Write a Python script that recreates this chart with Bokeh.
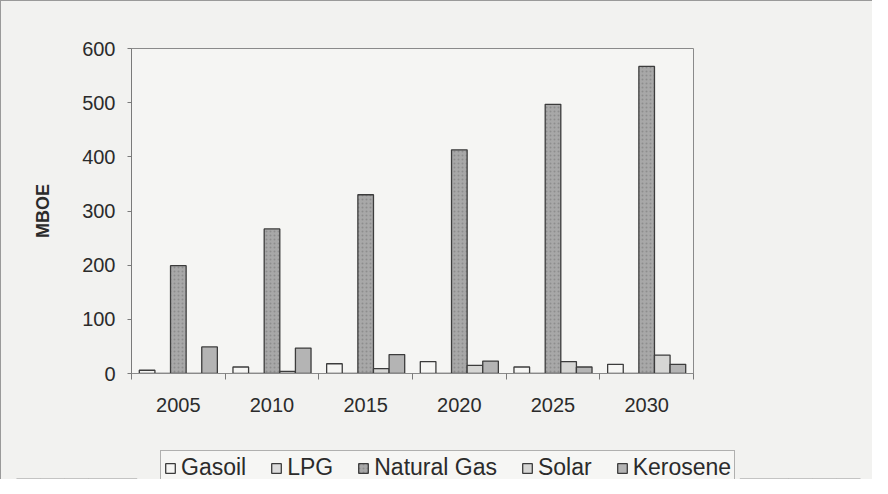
import numpy as np
from bokeh.plotting import figure
from bokeh.layouts import column
from bokeh.models import Range1d, FixedTicker, Legend, LegendItem, ColumnDataSource
from bokeh.embed import file_html
from bokeh.resources import INLINE

years = ["2005", "2010", "2015", "2020", "2025", "2030"]
series = ["Gasoil", "LPG", "Natural Gas", "Solar", "Kerosene"]
gasoil = [6, 12, 18, 22, 12, 17]
lpg = [0, 0, 0, 0, 0, 0]
natural_gas = [199, 267, 330, 413, 497, 567]
solar = [0, 4, 9, 15, 22, 34]
kerosene = [49, 47, 35, 23, 12, 17]
y_ticks = [0, 100, 200, 300, 400, 500, 600]

values = [gasoil, lpg, natural_gas, solar, kerosene]
fills = ["#f6f6f4", "#dcdcdc", "#a8a8a8", "#d6d6d4", "#b4b4b4"]
hatches = [None, None, "dot", None, None]

FONT = "Liberation Sans"
TXT = "#2b2b2b"
BG = "#f2f2f0"

p = figure(width=868, height=435, output_backend="svg", toolbar_location=None,
           x_range=Range1d(0, len(years)), y_range=Range1d(0, 600),
           min_border_left=127, min_border_right=179, min_border_top=39,
           min_border_bottom=71)
p.frame_align = False
p.background_fill_color = "#f5f5f3"
p.border_fill_color = BG
p.outline_line_color = "#8a8a8a"
p.outline_line_width = 1
p.grid.visible = False

centers = np.arange(len(years)) + 0.5
bw = 1.0 / 6.0


def style(i):
    kw = dict(fill_color=fills[i], line_color="#3c3c3c", line_width=1.3)
    if hatches[i]:
        kw.update(hatch_pattern=hatches[i], hatch_color="#7c7c7c", hatch_scale=4,
                  hatch_alpha=0.6)
    return kw


sources = []
for i, vals in enumerate(values):
    src = ColumnDataSource(dict(x=centers + (i - 2) * bw, top=vals))
    sources.append(src)
    p.vbar(x="x", top="top", bottom=0, width=bw, source=src, **style(i))

# x axis: labels at centres, tick marks between categories
xa = p.xaxis[0]
xa.ticker = FixedTicker(ticks=list(centers), minor_ticks=list(np.arange(len(years) + 1)))
xa.major_label_overrides = {float(c): y for c, y in zip(centers, years)}
xa.major_tick_out = 0
xa.major_tick_in = 0
xa.minor_tick_out = 6
xa.minor_tick_in = 0
xa.minor_tick_line_color = "#7a7a7a"
xa.axis_line_color = "#8a8a8a"
xa.major_label_standoff = 18
xa.major_label_text_font = FONT
xa.major_label_text_font_size = "20px"
xa.major_label_text_color = TXT

ya = p.yaxis[0]
ya.ticker = FixedTicker(ticks=y_ticks)
ya.major_tick_out = 4
ya.major_tick_in = 0
ya.minor_tick_out = 0
ya.minor_tick_in = 0
ya.axis_line_color = "#7a7a7a"
ya.major_tick_line_color = "#7a7a7a"
ya.major_label_standoff = 12
ya.major_label_text_font = FONT
ya.major_label_text_font_size = "20px"
ya.major_label_text_color = TXT
ya.axis_label = "MBOE"
ya.axis_label_text_font = FONT
ya.axis_label_text_font_style = "bold"
ya.axis_label_text_font_size = "18px"
ya.axis_label_text_color = TXT
ya.axis_label_standoff = 26

# legend strip below the chart (its bars lie outside its view; only the legend shows)
q = figure(width=868, height=35, output_backend="svg", toolbar_location=None,
           x_range=Range1d(0, len(years)), y_range=Range1d(10000, 10001),
           x_axis_type=None, y_axis_type=None,
           min_border_left=0, min_border_right=0, min_border_top=0, min_border_bottom=0)
q.frame_align = False
q.background_fill_color = BG
q.border_fill_color = BG
q.outline_line_color = None
q.grid.visible = False
legend_renderers = [q.vbar(x="x", top="top", bottom=0, width=bw, source=sources[i], **style(i))
                    for i in range(len(series))]

legend = Legend(items=[LegendItem(label=s, renderers=[r]) for s, r in zip(series, legend_renderers)],
                orientation="horizontal", location=(156, -6))
legend.label_text_font = FONT
legend.label_text_font_size = "23px"
legend.label_text_color = TXT
legend.glyph_width = 12
legend.glyph_height = 12
legend.label_standoff = 5
legend.spacing = 24
legend.padding = 3
legend.margin = 0
legend.border_line_color = "#6a6a6a"
legend.background_fill_color = "#f6f6f4"
legend.background_fill_alpha = 1
q.add_layout(legend, "center")

layout = column(p, q, spacing=0)
layout.styles = {"border-left": "1px solid #9a9a9a", "border-top": "1px solid #9a9a9a",
                 "padding-left": "3px", "padding-top": "8px", "background-color": BG}

open("out.html", "w").write(file_html(layout, INLINE))
